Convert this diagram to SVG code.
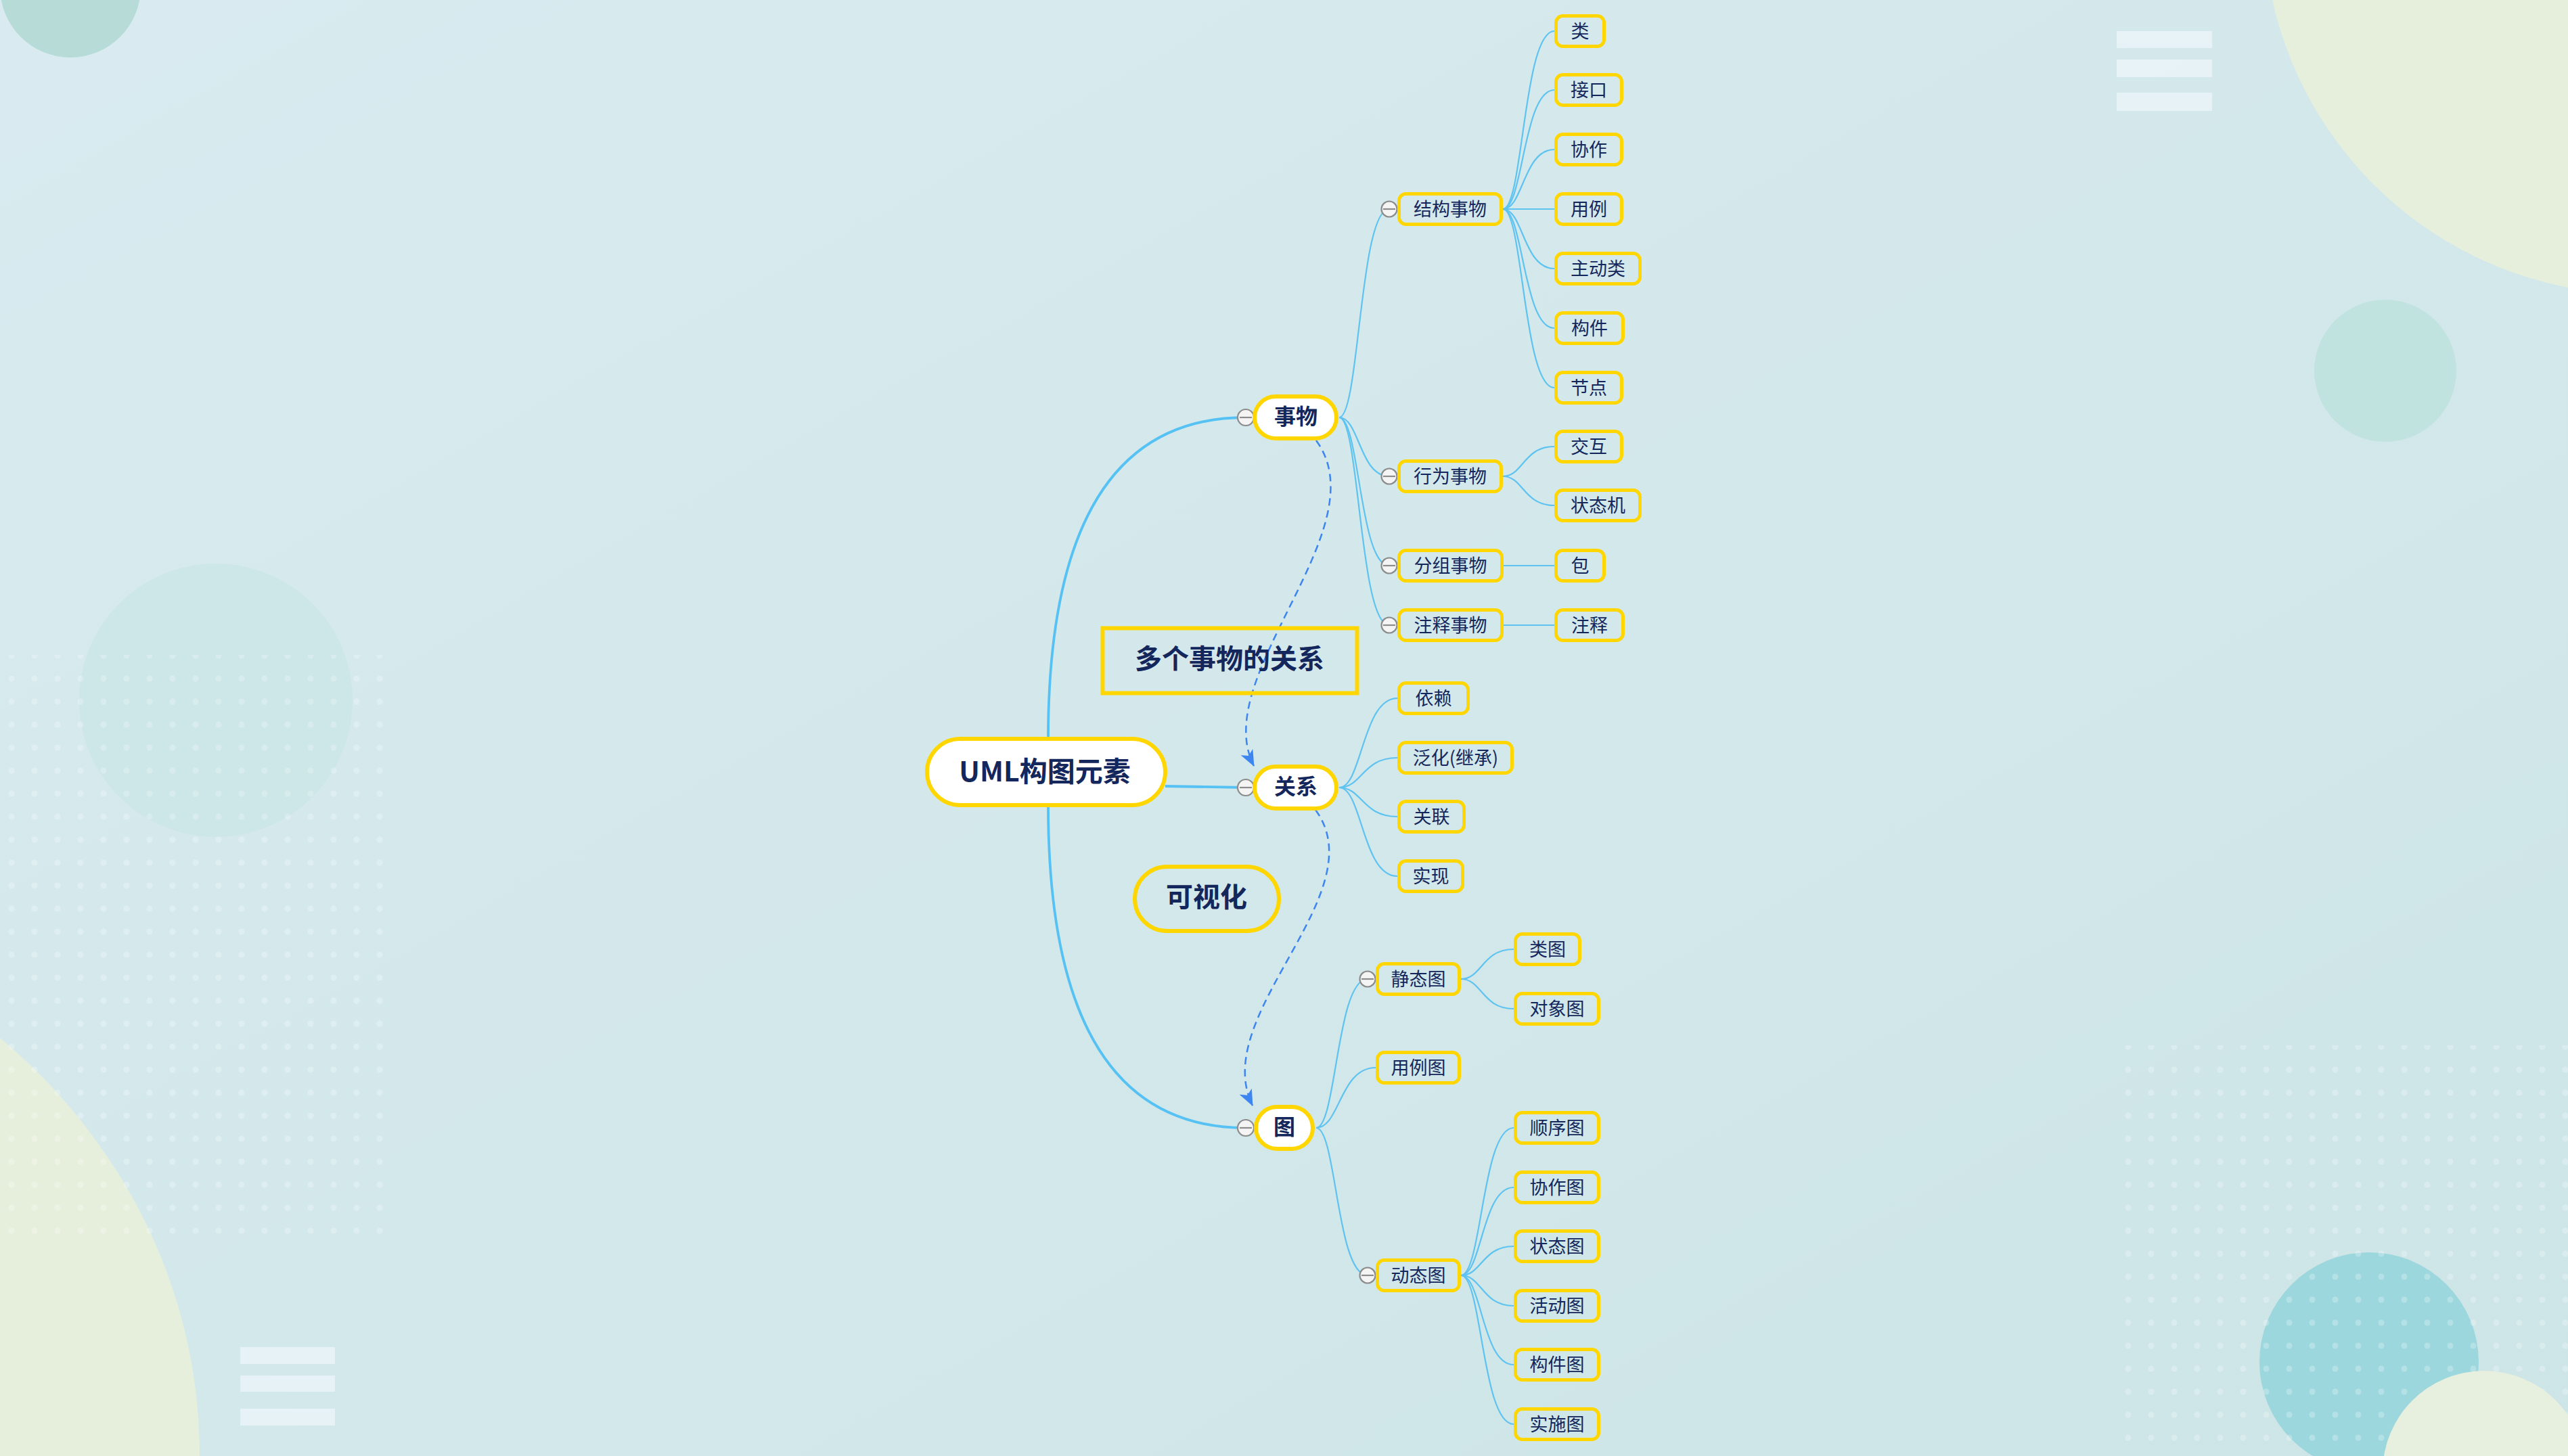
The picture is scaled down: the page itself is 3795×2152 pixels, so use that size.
<svg xmlns="http://www.w3.org/2000/svg" width="3795" height="2152" viewBox="0 0 3795 2152">
<defs>
<linearGradient id="bg" x1="0" y1="0" x2="1" y2="1">
<stop offset="0" stop-color="#d9ebf0"/>
<stop offset="1" stop-color="#cde5e6"/>
</linearGradient>
<pattern id="dots" width="34" height="34" patternUnits="userSpaceOnUse">
<circle cx="17" cy="17" r="4.5" fill="#ffffff" fill-opacity="0.24"/>
</pattern>
<marker id="arrow" viewBox="0 0 24 20" refX="23" refY="10" markerWidth="24" markerHeight="20" markerUnits="userSpaceOnUse" orient="auto">
<path d="M0,0 L24,10 L0,20 L6,10 Z" fill="#3d85f0"/>
</marker>
<style>
.tx{font-family:"Noto Sans CJK SC","Noto Sans",sans-serif;fill:#14275c;text-anchor:middle;dominant-baseline:central}
.sm{font-size:27px;font-weight:400}
.bd{font-weight:700}
.sub{fill:none;stroke:#FFD600;stroke-width:5}
.main{fill:#ffffff;stroke:#FFD600;stroke-width:6}
.free{fill:none;stroke:#FFD600;stroke-width:6}
.col circle{fill:#f4f4f4;stroke:#8c8c8c;stroke-width:2.2}
.col line{stroke:#8c8c8c;stroke-width:2.2}
.thin{fill:none;stroke:#5ec3f0;stroke-width:2.2}
.thick{fill:none;stroke:#56c2f4;stroke-width:3.8}
.dash{fill:none;stroke:#3d85f0;stroke-width:2.5;stroke-dasharray:11 7}
.bar{fill:#eef5fa;fill-opacity:0.75}
</style>
</defs>

<g id="background">
<rect x="0" y="0" width="3795" height="2152" fill="url(#bg)"/>
<circle cx="104" cy="-19" r="104" fill="#b7dcd7"/>
<circle cx="3900" cy="-120" r="555" fill="#e6efdc"/>
<circle cx="3525" cy="548" r="105" fill="#c1e3df"/>
<circle cx="319" cy="1035" r="202" fill="#c6e3e1" fill-opacity="0.55"/>
<ellipse cx="-600" cy="2150" rx="895" ry="830" fill="#e6efdc"/>
<rect x="0" y="968" width="580" height="870" fill="url(#dots)"/>
<circle cx="3501" cy="2013" r="162" fill="#9dd7de"/>
<rect x="3120" y="1545" width="675" height="607" fill="url(#dots)"/>
<circle cx="3671" cy="2176" r="150" fill="#e7efdf"/>
<rect class="bar" x="3128" y="46" width="141" height="25"/>
<rect class="bar" x="3128" y="88" width="141" height="26"/>
<rect class="bar" x="3128" y="137" width="141" height="27"/>
<rect class="bar" x="355" y="1991" width="140" height="25"/>
<rect class="bar" x="355" y="2033" width="140" height="24"/>
<rect class="bar" x="355" y="2082" width="140" height="25"/>
</g>

<g id="connectors">
<path class="thick" d="M1549,1092 Q1549,617 1841,617"/>
<path class="thick" d="M1549,1190 Q1549,1667 1841,1667"/>
<path class="thick" d="M1722,1162 L1841,1164"/>

<path class="thin" d="M1979,617 C2009,617 2009,309 2053,309"/>
<path class="thin" d="M1979,617 C2009,617 2009,704 2053,704"/>
<path class="thin" d="M1979,617 C2009,617 2009,836 2053,836"/>
<path class="thin" d="M1979,617 C2009,617 2009,924 2053,924"/>

<path class="thin" d="M2221,309 C2251,309 2251,46 2297,46"/>
<path class="thin" d="M2221,309 C2251,309 2251,133 2297,133"/>
<path class="thin" d="M2221,309 C2251,309 2251,221 2297,221"/>
<path class="thin" d="M2221,309 L2297,309"/>
<path class="thin" d="M2221,309 C2251,309 2251,397 2297,397"/>
<path class="thin" d="M2221,309 C2251,309 2251,485 2297,485"/>
<path class="thin" d="M2221,309 C2251,309 2251,573 2297,573"/>

<path class="thin" d="M2221,704 C2251,704 2251,660 2297,660"/>
<path class="thin" d="M2221,704 C2251,704 2251,747 2297,747"/>
<path class="thin" d="M2222,836 L2297,836"/>
<path class="thin" d="M2222,924 L2297,924"/>

<path class="thin" d="M1979,1164 C2013,1164 2013,1032 2065,1032"/>
<path class="thin" d="M1979,1164 C2013,1164 2013,1120 2065,1120"/>
<path class="thin" d="M1979,1164 C2013,1164 2013,1207 2065,1207"/>
<path class="thin" d="M1979,1164 C2013,1164 2013,1295 2065,1295"/>

<path class="thin" d="M1945,1667 C1975,1667 1975,1447 2021,1447"/>
<path class="thin" d="M1945,1667 C1980,1667 1980,1578 2033,1578"/>
<path class="thin" d="M1945,1667 C1975,1667 1975,1885 2021,1885"/>

<path class="thin" d="M2159,1447 C2190,1447 2190,1403 2237,1403"/>
<path class="thin" d="M2159,1447 C2190,1447 2190,1491 2237,1491"/>

<path class="thin" d="M2159,1885 C2190,1885 2190,1667 2237,1667"/>
<path class="thin" d="M2159,1885 C2190,1885 2190,1755 2237,1755"/>
<path class="thin" d="M2159,1885 C2190,1885 2190,1842 2237,1842"/>
<path class="thin" d="M2159,1885 C2190,1885 2190,1930 2237,1930"/>
<path class="thin" d="M2159,1885 C2190,1885 2190,2017 2237,2017"/>
<path class="thin" d="M2159,1885 C2190,1885 2190,2105 2237,2105"/>

<path class="dash" d="M1945,651 C2040,780 1785,1000 1853,1132" marker-end="url(#arrow)"/>
<path class="dash" d="M1944,1197 C2035,1320 1785,1500 1851,1634" marker-end="url(#arrow)"/>
</g>

<g id="node-root">
<rect class="main" x="1370" y="1092" width="352" height="98" rx="49"/>
<text class="tx bd" x="1544" y="1137" font-size="41">UML构图元素</text>
</g>

<g id="node-shiwu">
<g class="col"><circle cx="1841" cy="617" r="12"/><line x1="1832" y1="617" x2="1850" y2="617"/></g>
<rect class="main" x="1854" y="586" width="121" height="62" rx="31"/>
<text class="tx bd" x="1915" y="613" font-size="32">事物</text>
</g>

<g id="node-guanxi">
<g class="col"><circle cx="1841" cy="1164" r="12"/><line x1="1832" y1="1164" x2="1850" y2="1164"/></g>
<rect class="main" x="1854" y="1133" width="121" height="62" rx="31"/>
<text class="tx bd" x="1915" y="1160" font-size="32">关系</text>
</g>

<g id="node-tu">
<g class="col"><circle cx="1841" cy="1667" r="12"/><line x1="1832" y1="1667" x2="1850" y2="1667"/></g>
<rect class="main" x="1856" y="1636" width="84" height="62" rx="31"/>
<text class="tx bd" x="1898" y="1663" font-size="32">图</text>
</g>

<g id="node-duoge">
<rect class="free" x="1629.5" y="928.5" width="376" height="96" stroke-width="7"/>
<text class="tx bd" x="1817" y="971" font-size="40">多个事物的关系</text>
</g>

<g id="node-keshihua">
<rect class="free" x="1677" y="1281" width="213" height="95" rx="47.5"/>
<text class="tx bd" x="1783" y="1323" font-size="40">可视化</text>
</g>

<g id="node-jiegou">
<g class="col"><circle cx="2053" cy="309" r="11.5"/><line x1="2044" y1="309" x2="2062" y2="309"/></g>
<rect class="sub" x="2067.5" y="286.5" width="151" height="45" rx="10"/>
<text class="tx sm" x="2143" y="307">结构事物</text>
</g>
<g id="node-xingwei">
<g class="col"><circle cx="2053" cy="704" r="11.5"/><line x1="2044" y1="704" x2="2062" y2="704"/></g>
<rect class="sub" x="2067.5" y="681.5" width="151" height="45" rx="10"/>
<text class="tx sm" x="2143" y="702">行为事物</text>
</g>
<g id="node-fenzu">
<g class="col"><circle cx="2053" cy="836" r="11.5"/><line x1="2044" y1="836" x2="2062" y2="836"/></g>
<rect class="sub" x="2067.5" y="813.5" width="152" height="45" rx="10"/>
<text class="tx sm" x="2143.5" y="834">分组事物</text>
</g>
<g id="node-zhushi">
<g class="col"><circle cx="2053" cy="924" r="11.5"/><line x1="2044" y1="924" x2="2062" y2="924"/></g>
<rect class="sub" x="2067.5" y="901.5" width="152" height="45" rx="10"/>
<text class="tx sm" x="2143.5" y="922">注释事物</text>
</g>

<g id="node-lei">
<rect class="sub" x="2299.5" y="23.5" width="71" height="45" rx="10"/>
<text class="tx sm" x="2335" y="44">类</text>
</g>
<g id="node-jiekou">
<rect class="sub" x="2299.5" y="110.5" width="97" height="45" rx="10"/>
<text class="tx sm" x="2348" y="131">接口</text>
</g>
<g id="node-xiezuo">
<rect class="sub" x="2299.5" y="198.5" width="97" height="45" rx="10"/>
<text class="tx sm" x="2348" y="219">协作</text>
</g>
<g id="node-yongli">
<rect class="sub" x="2299.5" y="286.5" width="97" height="45" rx="10"/>
<text class="tx sm" x="2348" y="307">用例</text>
</g>
<g id="node-zhudonglei">
<rect class="sub" x="2299.5" y="374.5" width="124" height="45" rx="10"/>
<text class="tx sm" x="2361.5" y="395">主动类</text>
</g>
<g id="node-goujian">
<rect class="sub" x="2299.5" y="462.5" width="99" height="45" rx="10"/>
<text class="tx sm" x="2349" y="483">构件</text>
</g>
<g id="node-jiedian">
<rect class="sub" x="2299.5" y="550.5" width="97" height="45" rx="10"/>
<text class="tx sm" x="2348" y="571">节点</text>
</g>

<g id="node-jiaohu">
<rect class="sub" x="2299.5" y="637.5" width="97" height="45" rx="10"/>
<text class="tx sm" x="2348" y="658">交互</text>
</g>
<g id="node-zhuangtaiji">
<rect class="sub" x="2299.5" y="724.5" width="124" height="45" rx="10"/>
<text class="tx sm" x="2361.5" y="745">状态机</text>
</g>
<g id="node-bao">
<rect class="sub" x="2299.5" y="813.5" width="71" height="45" rx="10"/>
<text class="tx sm" x="2335" y="834">包</text>
</g>
<g id="node-zhushi2">
<rect class="sub" x="2299.5" y="901.5" width="99" height="45" rx="10"/>
<text class="tx sm" x="2349" y="922">注释</text>
</g>

<g id="node-yilai">
<rect class="sub" x="2067.5" y="1009.5" width="102" height="45" rx="10"/>
<text class="tx sm" x="2118.5" y="1030">依赖</text>
</g>
<g id="node-fanhua">
<rect class="sub" x="2067.5" y="1097.5" width="167" height="45" rx="10"/>
<text class="tx sm" x="2151" y="1118">泛化(继承)</text>
</g>
<g id="node-guanlian">
<rect class="sub" x="2067.5" y="1184.5" width="96" height="45" rx="10"/>
<text class="tx sm" x="2115.5" y="1205">关联</text>
</g>
<g id="node-shixian">
<rect class="sub" x="2067.5" y="1272.5" width="94" height="45" rx="10"/>
<text class="tx sm" x="2114.5" y="1293">实现</text>
</g>

<g id="node-jingtaitu">
<g class="col"><circle cx="2021" cy="1447" r="11.5"/><line x1="2012" y1="1447" x2="2030" y2="1447"/></g>
<rect class="sub" x="2035.5" y="1424.5" width="121" height="45" rx="10"/>
<text class="tx sm" x="2096" y="1445">静态图</text>
</g>
<g id="node-yonglitu">
<rect class="sub" x="2035.5" y="1555.5" width="121" height="45" rx="10"/>
<text class="tx sm" x="2096" y="1576">用例图</text>
</g>
<g id="node-dongtaitu">
<g class="col"><circle cx="2021" cy="1885" r="11.5"/><line x1="2012" y1="1885" x2="2030" y2="1885"/></g>
<rect class="sub" x="2035.5" y="1862.5" width="121" height="45" rx="10"/>
<text class="tx sm" x="2096" y="1883">动态图</text>
</g>

<g id="node-leitu">
<rect class="sub" x="2239.5" y="1380.5" width="95" height="45" rx="10"/>
<text class="tx sm" x="2287" y="1401">类图</text>
</g>
<g id="node-duixiangtu">
<rect class="sub" x="2239.5" y="1468.5" width="123" height="45" rx="10"/>
<text class="tx sm" x="2301" y="1489">对象图</text>
</g>

<g id="node-shunxutu">
<rect class="sub" x="2239.5" y="1644.5" width="123" height="45" rx="10"/>
<text class="tx sm" x="2301" y="1665">顺序图</text>
</g>
<g id="node-xiezuotu">
<rect class="sub" x="2239.5" y="1732.5" width="123" height="45" rx="10"/>
<text class="tx sm" x="2301" y="1753">协作图</text>
</g>
<g id="node-zhuangtaitu">
<rect class="sub" x="2239.5" y="1819.5" width="123" height="45" rx="10"/>
<text class="tx sm" x="2301" y="1840">状态图</text>
</g>
<g id="node-huodongtu">
<rect class="sub" x="2239.5" y="1907.5" width="123" height="45" rx="10"/>
<text class="tx sm" x="2301" y="1928">活动图</text>
</g>
<g id="node-goujiantu">
<rect class="sub" x="2239.5" y="1994.5" width="123" height="45" rx="10"/>
<text class="tx sm" x="2301" y="2015">构件图</text>
</g>
<g id="node-shishitu">
<rect class="sub" x="2239.5" y="2082.5" width="123" height="45" rx="10"/>
<text class="tx sm" x="2301" y="2103">实施图</text>
</g>
</svg>
